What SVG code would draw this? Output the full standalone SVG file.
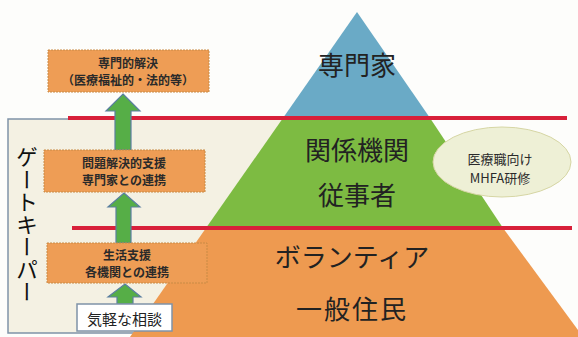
<svg xmlns="http://www.w3.org/2000/svg" width="578" height="337" viewBox="0 0 578 337">
<defs>
<style>
.box{fill:#ee9d55;stroke:#c98a45;stroke-width:1;stroke-dasharray:2 1}
.bt{font-family:"Noto Sans CJK JP","Noto Sans",sans-serif;font-size:12px;font-weight:bold;fill:#2a2a2a;text-anchor:middle;dominant-baseline:central}
.pt{font-family:"Noto Sans CJK JP","Noto Sans",sans-serif;font-size:26px;fill:#222;text-anchor:middle;dominant-baseline:central}
.arrow{fill:#56ae47;stroke:#5a7fa0;stroke-width:1.2}
.red{stroke:#d8203a;stroke-width:4}
</style>
</defs>
<rect width="578" height="337" fill="#fdfdfb"/>
<g id="panel">
<rect x="8" y="119" width="300" height="214" fill="#f4f1e3"/>
<path d="M68 119H8V333H140" fill="none" stroke="#7f93a8" stroke-width="1.5"/>
</g>
<g id="pyramid">
<polygon points="357,12 283,118 430,118" fill="#6aaac6"/>
<polygon points="283,118 430,118 503,228 206,228" fill="#7dbb42"/>
<polygon points="206,228 503,228 578,330 578,337 130,337" fill="#ee9a50"/>
<text class="pt" x="357" y="63">専門家</text>
<text class="pt" x="357" y="148">関係機関</text>
<text class="pt" x="357" y="193">従事者</text>
<text class="pt" x="352" y="255">ボランティア</text>
<text class="pt" x="352" y="307" letter-spacing="2">一般住民</text>
</g>
<g id="lines">
<line class="red" x1="68" y1="118" x2="567" y2="118"/>
<line class="red" x1="72" y1="228" x2="572" y2="228"/>
</g>
<g id="mhfa">
<ellipse cx="502" cy="162" rx="69" ry="35" fill="#eef0d6" stroke="#d6d6a4" stroke-width="1"/>
<text font-family="'Noto Sans CJK JP','Noto Sans',sans-serif" font-size="13" fill="#2a2a2a" text-anchor="middle" dominant-baseline="central"><tspan x="500" y="158">医療職向け</tspan><tspan x="500" y="177">MHFA研修</tspan></text>
</g>
<g id="connectors">
<polygon class="arrow" points="123,94 140,111 131,111 131,150 115,150 115,111 106,111"/>
<polygon class="arrow" points="124,193 140,207 131,207 131,243 116,243 116,207 108,207"/>
<polygon class="arrow" points="125,284 141,297 133,297 133,304 117,304 117,297 108,297"/>
</g>
<g id="gatekeeper">
<text x="27" y="146" font-family="'Noto Sans CJK JP','Noto Sans',sans-serif" font-size="22" fill="#111" writing-mode="vertical-rl" letter-spacing="0.5">ゲートキーパー</text>
</g>
<g id="box1">
<rect class="box" x="48" y="50" width="161" height="42"/>
<text class="bt" x="128" y="62">専門的解決</text>
<text class="bt" x="128" y="79.5">（医療福祉的・法的等）</text>
</g>
<g id="box2">
<rect class="box" x="44" y="150" width="161" height="42"/>
<text class="bt" x="124" y="162">問題解決的支援</text>
<text class="bt" x="124" y="179.5">専門家との連携</text>
</g>
<g id="box3">
<rect class="box" x="47" y="243" width="160" height="40"/>
<text class="bt" x="127" y="254">生活支援</text>
<text class="bt" x="127" y="271.5">各機関との連携</text>
</g>
<g id="box4">
<rect x="77" y="304" width="95" height="27" fill="#fff" stroke="#7f93a8" stroke-width="1.5"/>
<text x="124.5" y="318" font-family="'Noto Sans CJK JP','Noto Sans',sans-serif" font-size="15" fill="#222" text-anchor="middle" dominant-baseline="central">気軽な相談</text>
</g>
</svg>
